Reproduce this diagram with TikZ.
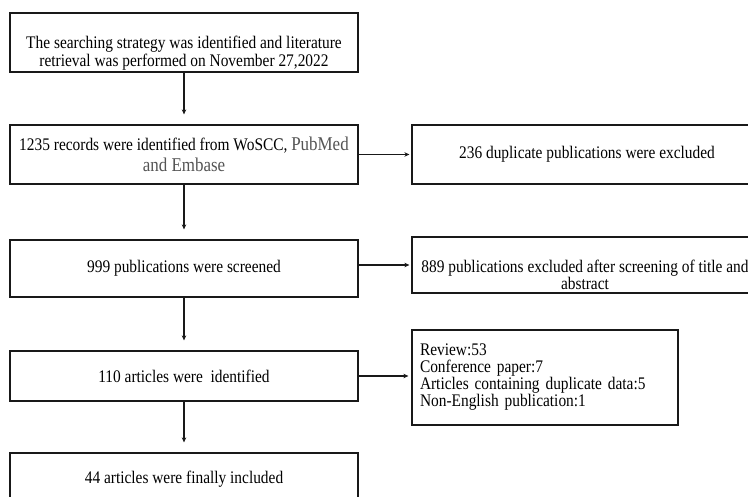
\documentclass[tikz,border=0pt]{standalone}
\usepackage{fontspec}
\setmainfont{Liberation Serif}[FakeStretch=0.87]
\usetikzlibrary{arrows.meta}
\definecolor{pubgray}{HTML}{555555}
\begin{document}
\begin{tikzpicture}[x=1pt,y=-1pt,
  flowbox/.style={draw=black!90,line width=1.2pt,inner sep=0pt,align=center,
    font=\fontsize{17.7}{18}\selectfont},
  txt/.style={inner sep=0pt,align=center,font=\fontsize{17.7}{18}\selectfont},
  arr/.style={draw=black!90,line width=1.2pt,-{Stealth[length=5pt,width=4.5pt]}}]
\useasboundingbox (0,0) rectangle (748,497);
\clip (0,0) rectangle (748,497);
\fill[white] (0,0) rectangle (748,497);

% left column
\node[flowbox,minimum width=348pt,minimum height=59pt] (b1) at (184,42.5) {};
\node[txt] (t1) at (184,53.5) {The searching strategy was identified and literature\\retrieval was performed on November 27,2022};

\node[flowbox,minimum width=348pt,minimum height=59pt] (b2) at (184,154.5)
  {1235 records were identified from WoSCC, {\color{pubgray}\fontsize{19.5}{18}\selectfont PubMed}\\[3pt]
   {\color{pubgray}\fontsize{19.5}{18}\selectfont and Embase}};

\node[flowbox,minimum width=348pt,minimum height=57pt] (b4) at (184,268.5)
  {999 publications were screened};

\node[flowbox,minimum width=348pt,minimum height=50pt] (b6) at (184,376)
  {110 articles were\ \ identified};

\node[flowbox,minimum width=348pt,minimum height=52pt] (b8) at (184,479)
  {44 articles were finally included};

% right column
\node[flowbox,minimum width=350pt,minimum height=59pt] (b3) at (587,154.5)
  {236 duplicate publications were excluded};

\node[flowbox,minimum width=350pt,minimum height=56pt] (b5) at (587,265) {};
\node[txt,font=\fontsize{17.7}{16}\selectfont] (t5) at (585,275)
  {889 publications excluded after screening of title and\\abstract};

\node[flowbox,minimum width=266pt,minimum height=95pt,align=left,text width=250pt,
  font=\fontsize{17.7}{17}\selectfont] (b7) at (545,377.5)
  {Review:53\\Conference paper:7\\Articles containing duplicate data:5\\Non-English publication:1};

% connectors
\draw[arr,shorten >=10pt] (b1.south) -- (b2.north);
\draw[arr,shorten >=10pt] (b2.south) -- (b4.north);
\draw[arr,shorten >=10pt] (b4.south) -- (b6.north);
\draw[arr,shorten >=10pt] (b6.south) -- (b8.north);
\draw[arr,shorten >=2pt] (b2.east) -- (b3.west);
\draw[arr,shorten >=2pt] (b5.west -| b4.east) -- (b5.west);
\draw[arr,shorten >=3pt] (b6.east) -- (b6.east -| b7.west);
\end{tikzpicture}
\end{document}
